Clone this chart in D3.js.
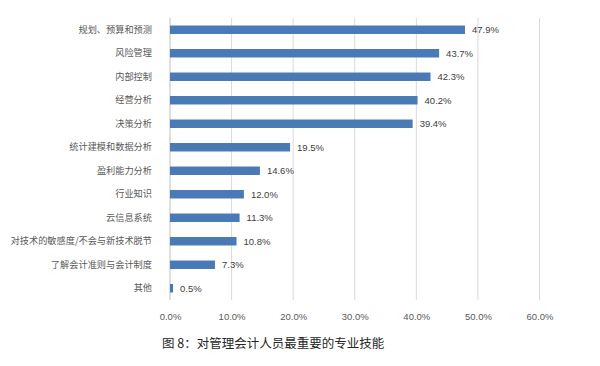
<!DOCTYPE html>
<html><head><meta charset="utf-8">
<script src="https://cdn.jsdelivr.net/npm/d3@7"></script>
<style>body{margin:0;background:#fff}</style>
</head><body>
<svg id="c" width="600" height="366"></svg>
<script>
const categories = ["规划、预算和预测","风险管理","内部控制","经营分析","决策分析","统计建模和数据分析","盈利能力分析","行业知识","云信息系统","对技术的敏感度/不会与新技术脱节","了解会计准则与会计制度","其他"];
const values = [47.9,43.7,42.3,40.2,39.4,19.5,14.6,12.0,11.3,10.8,7.3,0.5];
const tickValues = [0,10,20,30,40,50,60];
const title = "图 8：对管理会计人员最重要的专业技能";

const svg = d3.select("#c");
const x = d3.scaleLinear().domain([0,60]).range([170,539.5]);
const y = d3.scaleBand().domain(categories).range([18,300]).paddingInner(0.64).paddingOuter(0.32);
const font = "'Noto Sans CJK SC', 'Noto Sans', sans-serif";

// gridlines
svg.append("g").selectAll("line").data(tickValues.slice(1)).join("line")
  .attr("x1",d=>x(d)).attr("x2",d=>x(d)).attr("y1",18).attr("y2",300)
  .attr("stroke","#d9d9d9").attr("stroke-width",1);
// axis line
svg.append("line").attr("x1",x(0)).attr("x2",x(0)).attr("y1",18).attr("y2",300)
  .attr("stroke","#bfbfbf").attr("stroke-width",1);

// x tick labels
const xAxis = d3.axisBottom(x).tickValues(tickValues).tickFormat(d=>d.toFixed(1)+"%").tickSize(0).tickPadding(0);
const gx = svg.append("g").attr("transform","translate(0,313)").call(xAxis);
gx.select(".domain").remove();
gx.selectAll("text").attr("font-family","Arial, 'Liberation Sans', sans-serif").attr("font-size",9.5).attr("fill","#595959");

// y labels
const yAxis = d3.axisLeft(y).tickSize(0).tickPadding(0);
const gy = svg.append("g").attr("transform","translate(152,0)").call(yAxis);
gy.select(".domain").remove();
gy.selectAll("text").attr("font-family",font).attr("font-size",9.2).attr("fill","#595959");

// bars
svg.append("g").selectAll("rect").data(values).join("rect")
  .attr("x",x(0)).attr("y",(d,i)=>y(categories[i]))
  .attr("width",d=>x(d)-x(0)).attr("height",y.bandwidth())
  .attr("fill","#4a7ab6");

// value labels
svg.append("g").selectAll("text").data(values).join("text")
  .attr("x",d=>x(d)+7).attr("y",(d,i)=>y(categories[i])+y.bandwidth()/2)
  .attr("dy","0.35em").attr("font-family","Arial, 'Liberation Sans', sans-serif")
  .attr("font-size",9.5).attr("fill","#404040").text(d=>d.toFixed(1)+"%");

// title
svg.append("text").attr("x",162).attr("y",348).attr("font-family",font)
  .attr("font-size",12.5).attr("fill","#262626").text(title);
</script>
</body></html>
